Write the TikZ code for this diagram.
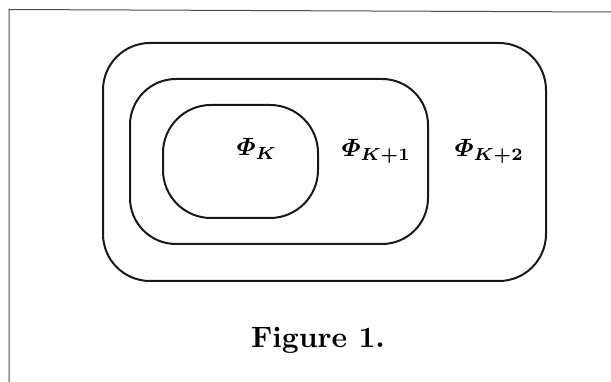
\documentclass[tikz,border=0pt]{standalone}
\usepackage{amsmath,amssymb}
\begin{document}
\begin{tikzpicture}[x=1pt,y=-1pt,
  frameline/.style={draw=black!70,line width=1pt},
  region/.style={draw=black!90,line width=2pt},
  philabel/.style={anchor=base west,inner sep=0pt,scale=2.5},
  caption/.style={anchor=base,inner sep=0pt,scale=2.95}]
\useasboundingbox (0,0) rectangle (611,382);
\draw[frameline] (611,12) -- (9,9.5) -- (9,382);
\draw[region,rounded corners=47pt] (103,43) rectangle (546,281);
\draw[region,rounded corners=46pt] (130,79) rectangle (428,244);
\draw[region,rounded corners=48pt] (163,105) rectangle (318,218);
\node[philabel] (pk) at (236,156) {$\boldsymbol{\varPhi_K}$};
\node[philabel] (pk1) at (341,157) {$\boldsymbol{\varPhi_{K+1}}$};
\node[philabel] (pk2) at (454,157) {$\boldsymbol{\varPhi_{K+2}}$};
\node[caption] (cap) at (318,348) {\bfseries Figure 1.};
\end{tikzpicture}
\end{document}
